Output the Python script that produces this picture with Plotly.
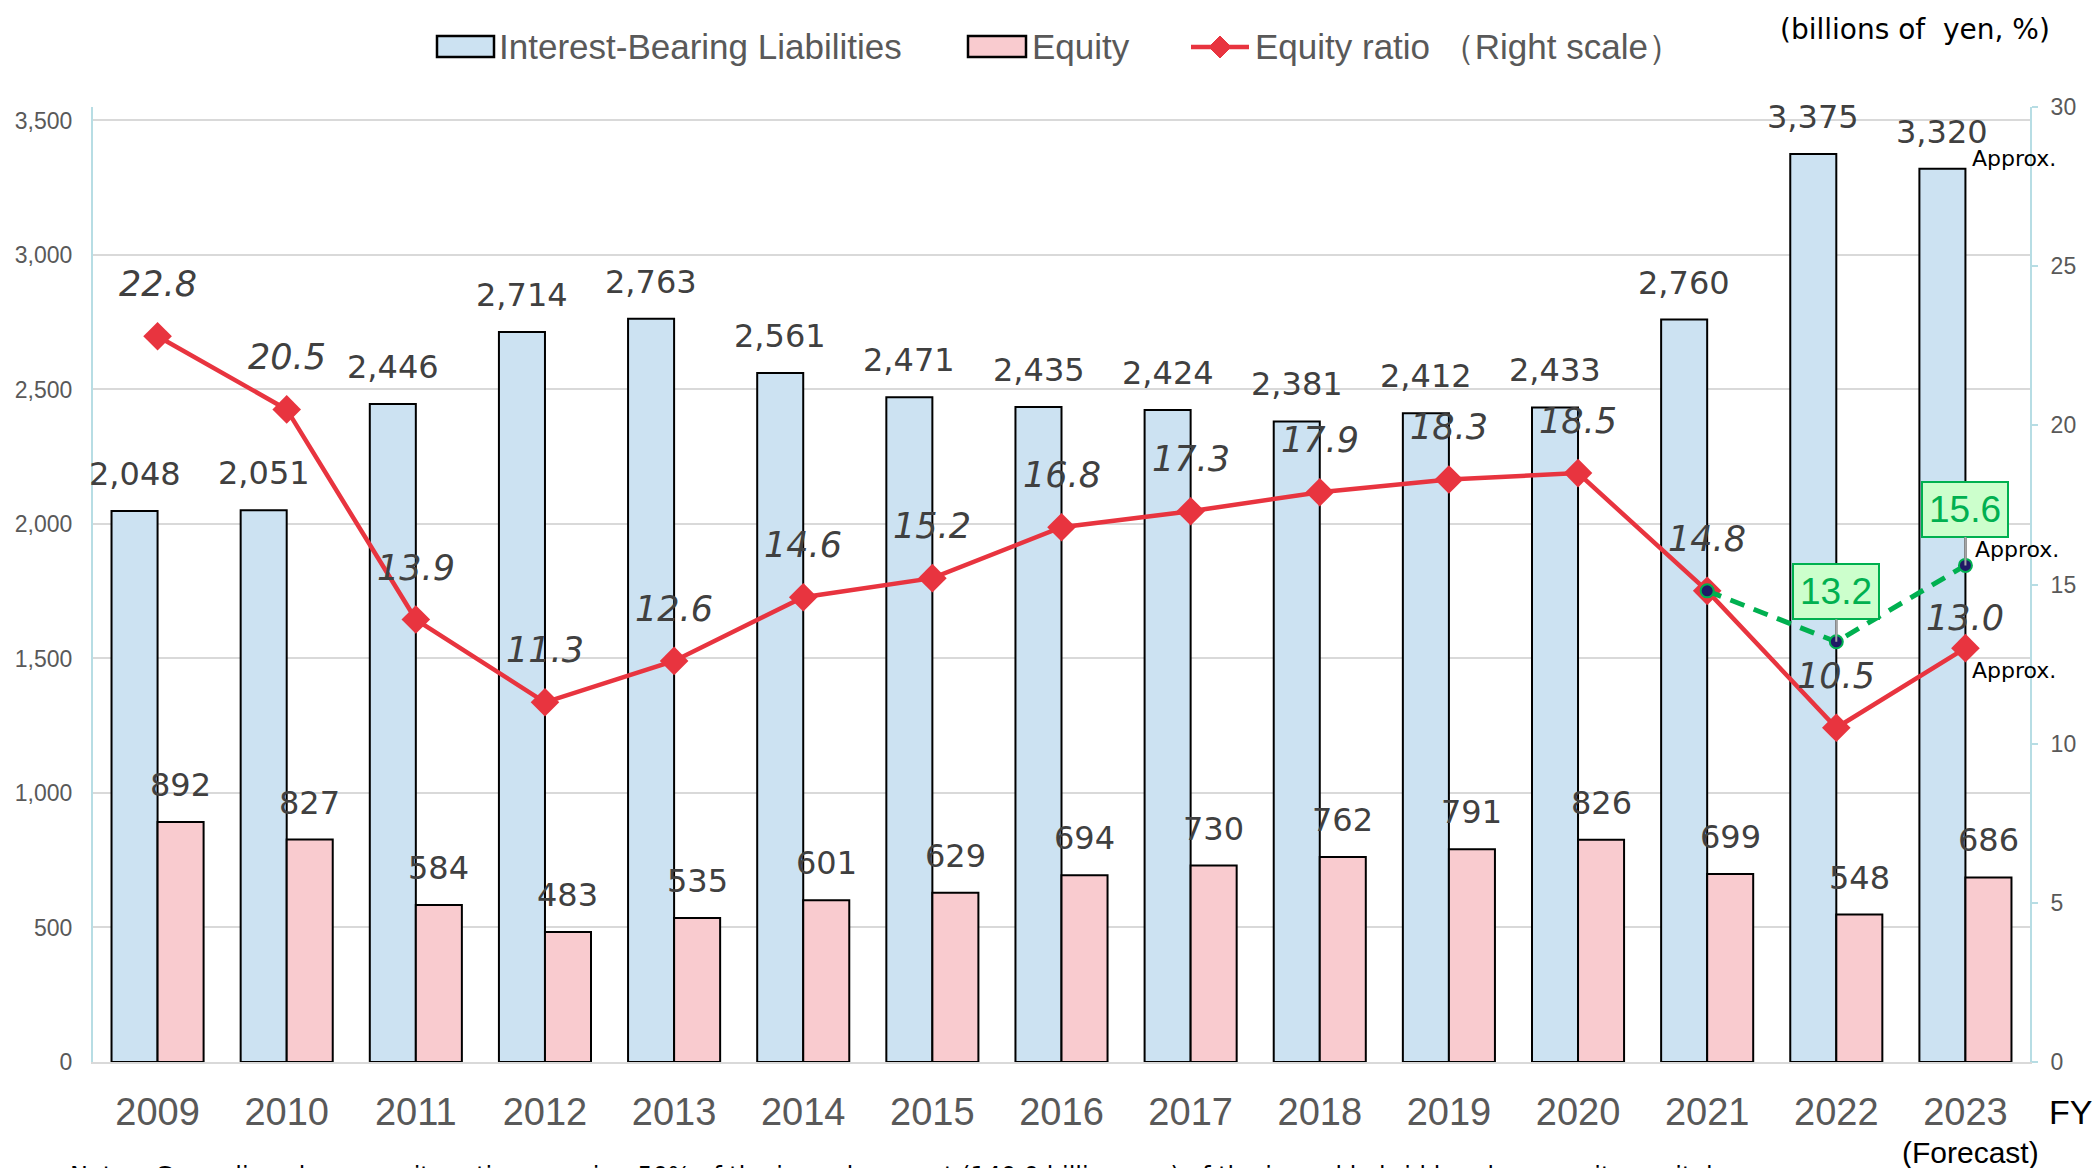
import plotly.graph_objects as go

# ---------------- data ----------------
years = ["2009", "2010", "2011", "2012", "2013", "2014", "2015", "2016",
         "2017", "2018", "2019", "2020", "2021", "2022", "2023"]
interest_bearing = [2048, 2051, 2446, 2714, 2763, 2561, 2471, 2435,
                    2424, 2381, 2412, 2433, 2760, 3375, 3320]
equity = [892, 827, 584, 483, 535, 601, 629, 694,
          730, 762, 791, 826, 699, 548, 686]
equity_ratio = [22.8, 20.5, 13.9, 11.3, 12.6, 14.6, 15.2, 16.8,
                17.3, 17.9, 18.3, 18.5, 14.8, 10.5, 13.0]
hybrid_years = ["2021", "2022", "2023"]
hybrid_ratio = [14.8, 13.2, 15.6]
left_ticks = [0, 500, 1000, 1500, 2000, 2500, 3000, 3500]
right_ticks = [0, 5, 10, 15, 20, 25, 30]

# ---------------- layout geometry ----------------
W, H = 2094, 1168
ML, MR, MT, MB = 93, 64, 107, 106
PW, PH = W - ML - MR, H - MT - MB


def px(xp):
    return (xp - ML) / PW


def py(yp):
    return (H - MB - yp) / PH


def idx(yr):
    return years.index(yr)


BLUE = "#CCE2F2"
PINK = "#F9CBCF"
RED = "#E8343F"
GREEN = "#00B050"
NAVY = "#1F1A66"
GRAY_TXT = "#595959"
DARK_TXT = "#404040"
AXIS_TEAL = "#B7DDE4"
GRID = "#D9D9D9"
SANS = "Liberation Sans, Arial, sans-serif"
WIDE = "DejaVu Sans, Verdana, sans-serif"

fig = go.Figure()

fig.add_trace(go.Bar(
    x=years, y=interest_bearing, name="Interest-Bearing Liabilities",
    marker=dict(color=BLUE, line=dict(color="black", width=2)),
    showlegend=False, yaxis="y"))
fig.add_trace(go.Bar(
    x=years, y=equity, name="Equity",
    marker=dict(color=PINK, line=dict(color="black", width=2)),
    showlegend=False, yaxis="y"))
fig.add_trace(go.Scatter(
    x=years, y=equity_ratio, name="Equity ratio（Right scale）",
    mode="lines+markers", yaxis="y2",
    line=dict(color=RED, width=4.5),
    marker=dict(symbol="diamond", size=22, color=RED),
    showlegend=False))
fig.add_trace(go.Scatter(
    x=hybrid_years, y=hybrid_ratio, mode="lines+markers", yaxis="y2",
    line=dict(color=GREEN, width=5, dash="15px,10px"),
    marker=dict(symbol="circle", size=13, color=NAVY,
                line=dict(color=GREEN, width=2)),
    showlegend=False))

annotations = []
# bar value labels
for yr, v in zip(years, interest_bearing):
    annotations.append(dict(x=idx(yr), y=v, xref="x", yref="y", text=f"{v:,}",
                            showarrow=False, xshift=-23, yshift=37,
                            xanchor="center", yanchor="middle",
                            font=dict(family=WIDE, size=32, color=DARK_TXT)))
for yr, v in zip(years, equity):
    annotations.append(dict(x=idx(yr), y=v, xref="x", yref="y", text=f"{v:,}",
                            showarrow=False, xshift=23, yshift=37,
                            xanchor="center", yanchor="middle",
                            font=dict(family=WIDE, size=32, color=DARK_TXT)))
# equity ratio labels
for yr, v in zip(years, equity_ratio):
    shift = 30 if yr == "2023" else 52
    annotations.append(dict(x=idx(yr), y=v, xref="x", yref="y2", text=f"<i>{v:.1f}</i>",
                            showarrow=False, yshift=shift,
                            xanchor="center", yanchor="middle",
                            font=dict(family=WIDE, size=35, color=DARK_TXT)))
# green boxed labels (2022, 2023)
for yr, v, ay in zip(hybrid_years[1:], hybrid_ratio[1:], [-50, -56]):
    annotations.append(dict(x=idx(yr), y=v, xref="x", yref="y2", text=f"{v:.1f}",
                            showarrow=True, arrowhead=0, arrowwidth=2,
                            arrowcolor="#A6A6A6", ax=0, ay=ay,
                            bgcolor="#CCFFCC", bordercolor=GREEN, borderwidth=2,
                            borderpad=6,
                            font=dict(family=SANS, size=37, color=GREEN)))
# "Approx." notes
approx_font = dict(family=WIDE, size=22, color="black")
last = idx("2023")
annotations.append(dict(x=last, y=interest_bearing[-1], xref="x", yref="y",
                        text="Approx.", showarrow=False, xanchor="left", yanchor="middle",
                        xshift=5, yshift=10, font=approx_font))
annotations.append(dict(x=last, y=hybrid_ratio[-1], xref="x", yref="y2",
                        text="Approx.", showarrow=False, xanchor="left", yanchor="middle",
                        xshift=8, yshift=16, font=approx_font))
annotations.append(dict(x=last, y=equity_ratio[-1], xref="x", yref="y2",
                        text="Approx.", showarrow=False, xanchor="left", yanchor="middle",
                        xshift=5, yshift=-22, font=approx_font))

# unit label, FY, forecast, note
annotations.append(dict(x=px(1915), y=py(30), xref="paper", yref="paper",
                        xanchor="center", yanchor="middle",
                        text="(billions of  yen, %)", showarrow=False,
                        font=dict(family=WIDE, size=28, color="black")))
annotations.append(dict(x=px(2070), y=py(1112), xref="paper", yref="paper",
                        xanchor="center", yanchor="middle",
                        text="FY", showarrow=False,
                        font=dict(family=SANS, size=34, color="black")))
annotations.append(dict(x=px(1970), y=py(1152), xref="paper", yref="paper",
                        xanchor="center", yanchor="middle",
                        text="(Forecast)", showarrow=False,
                        font=dict(family=SANS, size=30, color="black")))
annotations.append(dict(x=px(68), y=py(1160), xref="paper", yref="paper",
                        xanchor="left", yanchor="top",
                        text="Notes: Green line shows equity ratio assuming 50% of the issued amount "
                             "(140.0 billion yen) of the issued hybrid bonds as equity capital.",
                        showarrow=False,
                        font=dict(family=WIDE, size=24, color="black")))

# manual legend
leg_font = dict(family=SANS, size=35, color=GRAY_TXT)
shapes = []
shapes.append(dict(type="rect", xref="paper", yref="paper",
                   x0=px(437), x1=px(494), y0=py(57), y1=py(36),
                   fillcolor=BLUE, line=dict(color="black", width=2.5)))
annotations.append(dict(x=px(497), y=py(46), xref="paper", yref="paper",
                        xanchor="left", yanchor="middle", text="Interest-Bearing Liabilities",
                        showarrow=False, font=leg_font))
shapes.append(dict(type="rect", xref="paper", yref="paper",
                   x0=px(968), x1=px(1026), y0=py(57), y1=py(36),
                   fillcolor=PINK, line=dict(color="black", width=2.5)))
annotations.append(dict(x=px(1030), y=py(46), xref="paper", yref="paper",
                        xanchor="left", yanchor="middle", text="Equity",
                        showarrow=False, font=leg_font))
shapes.append(dict(type="line", xref="paper", yref="paper",
                   x0=px(1191), x1=px(1249), y0=py(47), y1=py(47),
                   line=dict(color=RED, width=4.5)))
cx, cy, r = 1220, 47, 11
shapes.append(dict(type="path", xref="paper", yref="paper",
                   path=f"M {px(cx - r)} {py(cy)} L {px(cx)} {py(cy - r)} "
                        f"L {px(cx + r)} {py(cy)} L {px(cx)} {py(cy + r)} Z",
                   fillcolor=RED, line=dict(color=RED, width=1)))
annotations.append(dict(x=px(1253), y=py(46), xref="paper", yref="paper",
                        xanchor="left", yanchor="middle", text="Equity ratio （Right scale）",
                        showarrow=False, font=leg_font))

fig.update_layout(
    width=W, height=H,
    margin=dict(l=ML, r=MR, t=MT, b=MB, autoexpand=False),
    paper_bgcolor="white", plot_bgcolor="white",
    barmode="group", bargap=0.287, bargroupgap=0,
    showlegend=False,
    annotations=annotations, shapes=shapes,
    xaxis=dict(type="category", categoryorder="array", categoryarray=years,
               range=[-0.5, len(years) - 0.5],
               showline=True, linecolor=GRID, linewidth=2, showgrid=False,
               ticks="", ticklabelstandoff=15,
               tickfont=dict(family=SANS, size=38, color=GRAY_TXT)),
    yaxis=dict(range=[0, 3550], tickvals=left_ticks, tickformat=",",
               showgrid=True, gridcolor=GRID, gridwidth=2, zeroline=False,
               showline=True, linecolor=AXIS_TEAL, linewidth=2,
               ticks="", ticklabelstandoff=14,
               tickfont=dict(family=SANS, size=23, color=GRAY_TXT)),
    yaxis2=dict(range=[0, 30], tickvals=right_ticks, overlaying="y", side="right",
                showgrid=False, zeroline=False,
                showline=True, linecolor=AXIS_TEAL, linewidth=2,
                ticks="outside", ticklen=6, tickcolor=AXIS_TEAL, tickwidth=2,
                ticklabelstandoff=8,
                tickfont=dict(family=SANS, size=23, color=GRAY_TXT)),
)

fig.write_html("out.html",
               config={"displayModeBar": False},
               post_script="document.body.style.margin='0';document.body.style.overflow='hidden';")
